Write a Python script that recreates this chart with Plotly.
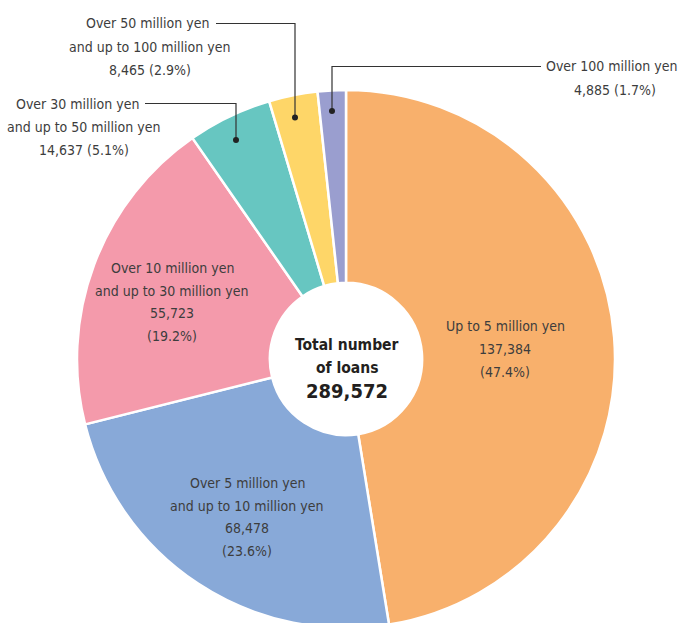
import plotly.graph_objects as go

# Loan amount bands and counts
categories = [
    "Up to 5 million yen",
    "Over 5 million yen<br>and up to 10 million yen",
    "Over 10 million yen<br>and up to 30 million yen",
    "Over 30 million yen<br>and up to 50 million yen",
    "Over 50 million yen<br>and up to 100 million yen",
    "Over 100 million yen",
]
loan_counts = [137384, 68478, 55723, 14637, 8465, 4885]
shares_pct = [47.4, 23.6, 19.2, 5.1, 2.9, 1.7]
total_loans = 289572
colors = ["#F8B06C", "#88A9D8", "#F49AAB", "#67C6C1", "#FED668", "#9A9ECF"]

W, H = 680, 628
FONT = "DejaVu Sans Condensed, Liberation Sans Narrow, sans-serif"
TXT = "#3d3d3d"


def px(x):
    return x / W


def py(y):
    return 1 - y / H


fig = go.Figure(
    go.Pie(
        labels=categories,
        values=loan_counts,
        sort=False,
        direction="clockwise",
        rotation=0,
        hole=0.283,
        marker=dict(colors=colors, line=dict(color="white", width=2.5)),
        textinfo="none",
        hoverinfo="skip",
        domain=dict(x=[px(77), px(615)], y=[py(628), py(90)]),
        showlegend=False,
    )
)

annotations = []


def add_lines(lines, cx, y0, step=23, size=14, color=TXT, bold=False, xanchor="center"):
    for i, t in enumerate(lines):
        anchor = xanchor[i] if isinstance(xanchor, list) else xanchor
        x = cx[i] if isinstance(cx, list) else cx
        annotations.append(
            dict(
                x=px(x), y=py(y0 + i * step), xref="paper", yref="paper",
                text=f"<b>{t}</b>" if bold else t, showarrow=False,
                xanchor=anchor, yanchor="middle",
                font=dict(family=FONT, size=size, color=color),
            )
        )


def fmt(i):
    return f"{loan_counts[i]:,}"


# Labels inside the slices
add_lines(["Up to 5 million yen", fmt(0), f"({shares_pct[0]}%)"], 505, 326)
add_lines(["Over 5 million yen", "and up to 10 million yen", fmt(1), f"({shares_pct[1]}%)"], 247, 483, step=22.7)
add_lines(["Over 10 million yen", "and up to 30 million yen", fmt(2), f"({shares_pct[2]}%)"], 172, 268, step=22.7)

# Labels outside the ring
add_lines(["Over 30 million yen", "and up to 50 million yen", f"{fmt(3)} ({shares_pct[3]}%)"],
          [141, 84, 84], 104, step=23, xanchor=["right", "center", "center"])
add_lines(["Over 50 million yen", "and up to 100 million yen", f"{fmt(4)} ({shares_pct[4]}%)"],
          [211, 150, 150], 23, step=23.5, xanchor=["right", "center", "center"])
add_lines(["Over 100 million yen", f"{fmt(5)} ({shares_pct[5]}%)"],
          [679, 615], 66, step=24, xanchor=["right", "center"])

# Centre total
add_lines(["Total number", "of loans"], 347, 345, step=23, size=15.5, color="#231f20", bold=True)
add_lines([f"{total_loans:,}"], 347, 391, size=20, color="#231f20", bold=True)

# Leader lines with dots
shapes = []
leaders = [
    [(145, 103.5), (236, 103.5), (236, 140)],
    [(216, 23.5), (295, 23.5), (295, 117.5)],
    [(541, 66.5), (332, 66.5), (332, 111)],
]
for pts in leaders:
    path = "M " + " L ".join(f"{px(x)},{py(y)}" for x, y in pts)
    shapes.append(dict(type="path", xref="paper", yref="paper", path=path,
                       line=dict(color="#333333", width=1.2)))
    dx, dy = pts[-1]
    r = 3
    shapes.append(dict(type="circle", xref="paper", yref="paper",
                       x0=px(dx - r), x1=px(dx + r), y0=py(dy + r), y1=py(dy - r),
                       fillcolor="#222222", line=dict(width=0)))

fig.update_layout(
    width=W, height=H,
    margin=dict(l=0, r=0, t=0, b=0),
    paper_bgcolor="white", plot_bgcolor="white",
    annotations=annotations, shapes=shapes,
)

fig.write_html(
    "out.html",
    post_script="document.body.style.overflow='hidden';document.documentElement.style.overflow='hidden';",
)
